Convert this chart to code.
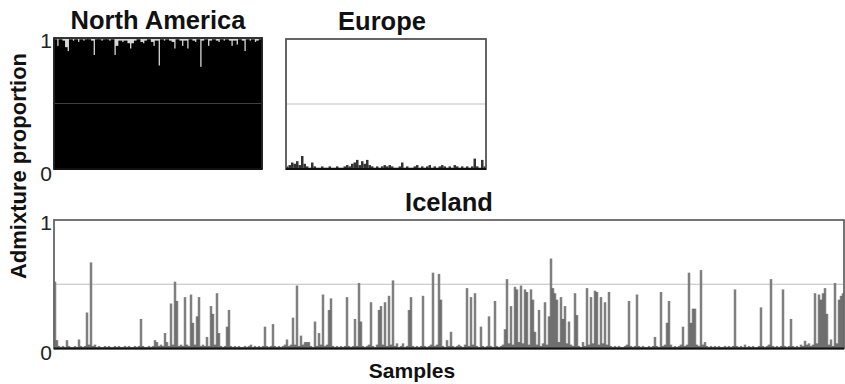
<!DOCTYPE html>
<html>
<head>
<meta charset="utf-8">
<script src="https://cdn.jsdelivr.net/npm/d3@7"></script>
<style>
  html, body { margin: 0; padding: 0; background: #fff; }
  text { font-family: "Liberation Sans", Arial, Helvetica, sans-serif; }
</style>
</head>
<body>
<div id="chart"></div>
<script>
// admixture proportion per sample
const naValues = [
  0.99, 0.94, 0.99, 0.98, 0.93, 0.90, 0.99, 0.98, 0.99, 0.97,
  0.99, 0.98, 0.99, 0.99, 0.98, 0.87, 0.99, 0.99, 0.98, 0.99,
  0.99, 0.98, 0.99, 0.87, 0.94, 0.98, 0.97, 0.98, 0.96, 0.92,
  0.96, 0.98, 0.99, 0.97, 0.96, 0.98, 0.99, 0.97, 0.94, 0.98,
  0.79, 0.99, 0.98, 0.99, 0.98, 0.97, 0.92, 0.99, 0.98, 0.94,
  0.98, 0.92, 0.99, 0.98, 0.97, 0.99, 0.78, 0.98, 0.99, 0.94,
  0.98, 0.99, 0.98, 0.97, 0.99, 0.98, 0.99, 0.98, 0.94, 0.98,
  0.95, 0.99, 0.98, 0.90, 0.99, 0.98, 0.99, 0.97, 0.98, 0.99
];

const euValues = [
  0.02, 0.03, 0.05, 0.04, 0.06, 0.03, 0.10, 0.04, 0.02, 0.01,
  0.05, 0.02, 0.01, 0.01, 0.02, 0.01, 0.01, 0.02, 0.01, 0.01,
  0.02, 0.01, 0.01, 0.02, 0.03, 0.02, 0.04, 0.05, 0.07, 0.03,
  0.06, 0.04, 0.07, 0.03, 0.02, 0.01, 0.02, 0.01, 0.02, 0.03,
  0.02, 0.03, 0.02, 0.01, 0.01, 0.02, 0.05, 0.01, 0.02, 0.01,
  0.01, 0.02, 0.03, 0.01, 0.02, 0.01, 0.02, 0.03, 0.01, 0.02,
  0.01, 0.02, 0.03, 0.02, 0.01, 0.02, 0.01, 0.03, 0.02, 0.01,
  0.02, 0.01, 0.02, 0.01, 0.02, 0.08, 0.02, 0.01, 0.07, 0.02
];

const isValues = [
  0.52, 0.065, 0.02, 0.01, 0.02, 0.01, 0.065, 0.02, 0.01, 0.01, 0.02, 0.01, 0.07, 0.02, 0.01, 0.02, 0.28, 0.03, 0.67, 0.02,
  0.03, 0.01, 0.02, 0.01, 0.01, 0.02, 0.01, 0.02, 0.01, 0.01, 0.02, 0.01, 0.02, 0.01, 0.01, 0.02, 0.01, 0.02, 0.01, 0.01,
  0.02, 0.01, 0.02, 0.23, 0.02, 0.01, 0.01, 0.02, 0.01, 0.02, 0.065, 0.05, 0.02, 0.03, 0.02, 0.12, 0.05, 0.02, 0.35, 0.03,
  0.52, 0.37, 0.02, 0.03, 0.02, 0.40, 0.03, 0.02, 0.42, 0.20, 0.03, 0.25, 0.40, 0.02, 0.03, 0.02, 0.09, 0.02, 0.33, 0.27,
  0.03, 0.43, 0.12, 0.02, 0.01, 0.02, 0.17, 0.30, 0.02, 0.01, 0.02, 0.01, 0.02, 0.01, 0.01, 0.02, 0.01, 0.02, 0.03, 0.01,
  0.02, 0.01, 0.02, 0.01, 0.02, 0.17, 0.02, 0.01, 0.02, 0.19, 0.02, 0.01, 0.02, 0.01, 0.02, 0.03, 0.07, 0.02, 0.03, 0.24,
  0.03, 0.49, 0.02, 0.10, 0.03, 0.05, 0.05, 0.05, 0.02, 0.01, 0.21, 0.02, 0.12, 0.03, 0.42, 0.02, 0.03, 0.30, 0.39, 0.02,
  0.01, 0.02, 0.01, 0.02, 0.01, 0.02, 0.40, 0.02, 0.01, 0.02, 0.23, 0.02, 0.51, 0.21, 0.02, 0.01, 0.02, 0.03, 0.36, 0.02,
  0.01, 0.03, 0.30, 0.33, 0.03, 0.36, 0.02, 0.41, 0.03, 0.53, 0.02, 0.04, 0.01, 0.02, 0.04, 0.01, 0.02, 0.30, 0.40, 0.02,
  0.01, 0.02, 0.01, 0.02, 0.41, 0.02, 0.01, 0.02, 0.03, 0.59, 0.02, 0.03, 0.58, 0.38, 0.02, 0.01, 0.065, 0.02, 0.13, 0.02,
  0.01, 0.02, 0.03, 0.02, 0.01, 0.03, 0.47, 0.02, 0.40, 0.03, 0.43, 0.02, 0.01, 0.17, 0.02, 0.01, 0.02, 0.25, 0.02, 0.01,
  0.37, 0.02, 0.01, 0.02, 0.03, 0.15, 0.54, 0.04, 0.33, 0.03, 0.48, 0.46, 0.05, 0.49, 0.04, 0.46, 0.44, 0.03, 0.46, 0.38,
  0.13, 0.03, 0.30, 0.02, 0.04, 0.36, 0.03, 0.25, 0.70, 0.47, 0.43, 0.38, 0.05, 0.40, 0.23, 0.33, 0.04, 0.21, 0.03, 0.02,
  0.43, 0.26, 0.02, 0.01, 0.05, 0.02, 0.47, 0.03, 0.40, 0.04, 0.45, 0.44, 0.03, 0.40, 0.04, 0.36, 0.03, 0.44, 0.02, 0.01,
  0.02, 0.01, 0.02, 0.01, 0.01, 0.02, 0.03, 0.37, 0.02, 0.01, 0.02, 0.42, 0.02, 0.01, 0.02, 0.01, 0.01, 0.02, 0.01, 0.02,
  0.09, 0.02, 0.01, 0.44, 0.02, 0.03, 0.20, 0.37, 0.03, 0.01, 0.02, 0.01, 0.02, 0.03, 0.17, 0.02, 0.03, 0.59, 0.20, 0.31,
  0.31, 0.03, 0.02, 0.61, 0.03, 0.05, 0.02, 0.01, 0.02, 0.01, 0.02, 0.01, 0.02, 0.01, 0.01, 0.02, 0.01, 0.02, 0.01, 0.02,
  0.46, 0.02, 0.01, 0.02, 0.01, 0.03, 0.01, 0.02, 0.01, 0.02, 0.01, 0.01, 0.02, 0.32, 0.02, 0.01, 0.02, 0.03, 0.54, 0.02,
  0.01, 0.02, 0.01, 0.02, 0.46, 0.02, 0.01, 0.02, 0.23, 0.02, 0.01, 0.02, 0.01, 0.03, 0.02, 0.06, 0.03, 0.04, 0.02, 0.03,
  0.43, 0.04, 0.42, 0.38, 0.43, 0.47, 0.27, 0.03, 0.07, 0.02, 0.51, 0.04, 0.38, 0.41, 0.43
];

const panelTitles = ["North America", "Europe", "Iceland"];
const yTicks = [0, 1];
const refLine = 0.5;
const yLabel = "Admixture proportion";
const xLabel = "Samples";

let width = 845,
  height = 384;

let svg = d3
  .select("#chart")
  .append("svg")
  .attr("width", width)
  .attr("height", height);

// one structure-style panel
function drawPanel(values, title, box, opts) {
  let xScale = d3
    .scaleBand()
    .domain(d3.range(values.length))
    .range([box.x0, box.x1])
    .padding(0);

  let yScale = d3
    .scaleLinear()
    .domain([0, 1])
    .range([box.y1, box.y0]);

  let g = svg.append("g");

  g.append("rect")
    .attr("x", box.x0)
    .attr("y", box.y0)
    .attr("width", box.x1 - box.x0)
    .attr("height", box.y1 - box.y0)
    .style("fill", opts.bg || "#fff");

  let bw = xScale.bandwidth() * opts.widen;
  g.selectAll("rect.bar")
    .data(values)
    .enter()
    .append("rect")
    .attr("class", "bar")
    .attr("x", (d, i) => xScale(i) + xScale.bandwidth() / 2 - bw / 2)
    .attr("y", d => yScale(d))
    .attr("width", bw)
    .attr("height", d => yScale(0) - yScale(d))
    .style("fill", "#000")
    .style("opacity", opts.opacity);

  // half-way reference line
  g.append("line")
    .attr("x1", box.x0)
    .attr("x2", box.x1)
    .attr("y1", yScale(refLine))
    .attr("y2", yScale(refLine))
    .style("stroke", "#808080")
    .style("stroke-opacity", 0.5)
    .style("stroke-width", 1.2);

  // frame
  g.append("rect")
    .attr("x", box.x0)
    .attr("y", box.y0)
    .attr("width", box.x1 - box.x0)
    .attr("height", box.y1 - box.y0)
    .style("fill", "none")
    .style("stroke", opts.frame)
    .style("stroke-width", 1.8);

  g.append("line")
    .attr("x1", box.x0)
    .attr("x2", box.x1)
    .attr("y1", box.y1)
    .attr("y2", box.y1)
    .style("stroke", "#111")
    .style("stroke-width", 2.2);

  g.append("text")
    .text(title)
    .attr("x", (box.x0 + box.x1) / 2 + (opts.titleDx || 0))
    .attr("y", box.y0 - 9)
    .attr("text-anchor", "middle")
    .style("font-size", "25.5px")
    .style("font-weight", "bold")
    .style("fill", "#111");

  if (opts.ticks) {
    g.selectAll("text.tick")
      .data(yTicks)
      .enter()
      .append("text")
      .attr("class", "tick")
      .text(d => d)
      .attr("x", box.x0 - 2)
      .attr("y", d => yScale(d) + (d === 0 ? 4 : 2))
      .attr("dy", "0.36em")
      .attr("text-anchor", "end")
      .style("font-size", "21px")
      .style("fill", "#222");
  }
}

drawPanel(naValues, panelTitles[0],
  { x0: 54, x1: 262, y0: 38, y1: 169 },
  { widen: 1.5, opacity: 1, frame: "#222", ticks: true, bg: "#d8d8d8" });

drawPanel(euValues, panelTitles[1],
  { x0: 286, x1: 486, y0: 39, y1: 169 },
  { widen: 1.0, opacity: 0.8, frame: "#555", ticks: false, titleDx: -4 });

drawPanel(isValues, panelTitles[2],
  { x0: 54, x1: 844, y0: 220, y1: 348.5 },
  { widen: 1.25, opacity: 0.5, frame: "#666", ticks: true });

// axis titles
svg
  .append("text")
  .text(yLabel)
  .attr("transform", "translate(26,166) rotate(-90)")
  .attr("text-anchor", "middle")
  .style("font-size", "22px")
  .style("font-weight", "bold")
  .style("fill", "#111");

svg
  .append("text")
  .text(xLabel)
  .attr("x", 412)
  .attr("y", 378)
  .attr("text-anchor", "middle")
  .style("font-size", "21px")
  .style("font-weight", "bold")
  .style("fill", "#111");
</script>
</body>
</html>
